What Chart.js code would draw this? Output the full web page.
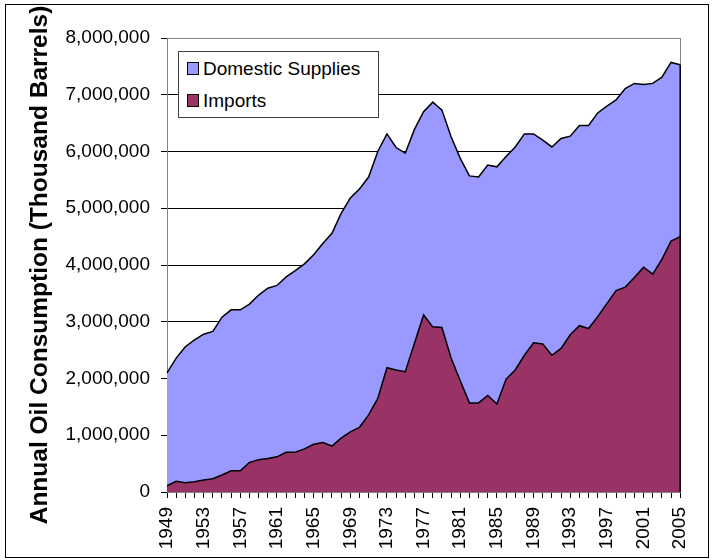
<!DOCTYPE html>
<html>
<head>
<meta charset="utf-8">
<script src="https://cdn.jsdelivr.net/npm/chart.js@4.4.0/dist/chart.umd.min.js"></script>
<style>
html,body{margin:0;padding:0;background:#fff;}
#wrap{position:relative;width:712px;height:560px;overflow:hidden;background:#fff;}
#c{position:absolute;left:0;top:0;}
#frame{position:absolute;left:5px;top:4px;width:704px;height:554px;border:1px solid #000;box-sizing:border-box;pointer-events:none;}
#legend{position:absolute;left:178px;top:51px;width:201px;height:67px;box-sizing:border-box;border:1px solid #404040;background:#fff;font-family:"Liberation Sans",Arial,sans-serif;font-size:19px;color:#000;}
.sw{position:absolute;left:8px;width:12px;height:13px;box-sizing:border-box;border:1px solid #000;}
.lt{position:absolute;left:24px;white-space:nowrap;line-height:20px;height:20px;}
</style>
</head>
<body>
<div id="wrap">
<canvas id="c" width="712" height="560"></canvas>
<div id="legend"></div>
<div id="frame"></div>
</div>
<script>
// ---- data (thousand barrels) ----
const years = ['1949','1950','1951','1952','1953','1954','1955','1956','1957','1958',
  '1959','1960','1961','1962','1963','1964','1965','1966','1967','1968',
  '1969','1970','1971','1972','1973','1974','1975','1976','1977','1978',
  '1979','1980','1981','1982','1983','1984','1985','1986','1987','1988',
  '1989','1990','1991','1992','1993','1994','1995','1996','1997','1998',
  '1999','2000','2001','2002','2003','2004','2005'];
const xTickLabels = ['1949','1953','1957','1961','1965','1969','1973','1977','1981','1985','1989','1993','1997','2001','2005'];
const importsData = [110000,190000,165000,180000,210000,235000,300000,375000,375000,520000,
  570000,590000,620000,700000,700000,760000,840000,870000,810000,950000,
  1060000,1140000,1360000,1650000,2190000,2150000,2120000,2620000,3120000,2910000,
  2900000,2360000,1960000,1570000,1570000,1700000,1550000,1990000,2150000,2410000,
  2630000,2610000,2410000,2530000,2770000,2930000,2880000,3090000,3320000,3550000,
  3610000,3780000,3960000,3840000,4100000,4420000,4500000];
const domesticData = [1990000,2170000,2395000,2500000,2570000,2595000,2780000,2835000,2835000,2790000,
  2900000,3000000,3020000,3090000,3200000,3260000,3340000,3510000,3750000,3960000,
  4120000,4200000,4190000,4350000,4120000,3920000,3850000,3770000,3580000,3960000,
  3830000,3900000,3920000,4000000,3980000,4060000,4180000,3920000,3930000,3900000,
  3680000,3590000,3670000,3700000,3500000,3530000,3580000,3590000,3480000,3360000,
  3500000,3420000,3220000,3360000,3210000,3150000,3030000];
const seriesNames = ['Imports','Domestic Supplies'];
const seriesColors = ['#993366','#9999FF'];
const yMax = 8000000, yStep = 1000000;

const FONT = '"Liberation Sans", Arial, sans-serif';

const framePlugin = {
  id:'framePlugin',
  beforeDatasetsDraw(chart){
    const {ctx, chartArea:a} = chart;
    ctx.save();
    ctx.strokeStyle = '#808080';
    ctx.lineWidth = 1;
    ctx.strokeRect(Math.round(a.left)+0.5, Math.round(a.top)+0.5, Math.round(a.right-a.left), Math.round(a.bottom-a.top));
    ctx.restore();
  },
  afterDatasetsDraw(chart){
    const {ctx, scales} = chart;
    const last = years.length-1;
    const x = scales.x.getPixelForValue(last);
    const yTop = scales.y.getPixelForValue(importsData[last]+domesticData[last]);
    const y0 = scales.y.getPixelForValue(0);
    ctx.save();
    ctx.strokeStyle = '#000';
    ctx.lineWidth = 1.5;
    ctx.beginPath();
    ctx.moveTo(x, yTop); ctx.lineTo(x, y0);
    ctx.stroke();
    ctx.restore();
  }
};

const chart = new Chart(document.getElementById('c'), {
  type:'line',
  data:{
    labels: years,
    datasets:[
      {label:seriesNames[0], data:importsData, backgroundColor:seriesColors[0], borderColor:'#000', borderWidth:1.5, fill:'origin', pointRadius:0, tension:0},
      {label:seriesNames[1], data:domesticData, backgroundColor:seriesColors[1], borderColor:'#000', borderWidth:1.5, fill:'-1', pointRadius:0, tension:0}
    ]
  },
  options:{
    responsive:false,
    animation:false,
    devicePixelRatio:1,
    layout:{padding:{top:38,right:17,bottom:0,left:0}},
    plugins:{legend:{display:false}, tooltip:{enabled:false}},
    scales:{
      x:{
        offset:false,
        grid:{drawOnChartArea:false, drawTicks:true, tickLength:6, color:'#000', lineWidth:1},
        border:{display:true, color:'#000', width:1},
        ticks:{autoSkip:false, maxRotation:90, minRotation:90, padding:9, color:'#000',
          font:{family:FONT, size:19},
          callback:function(v, i){ return xTickLabels.includes(years[i]) ? years[i] : ''; }},
        afterFit:function(s){ s.height = 68; }
      },
      y:{
        stacked:true,
        min:0, max:yMax,
        grid:{color:'#000', lineWidth:1, drawTicks:true, tickLength:6},
        border:{display:true, color:'#000', width:1},
        ticks:{stepSize:yStep, padding:11, color:'#000', font:{family:FONT, size:19},
          callback:function(v){ return v.toLocaleString('en-US'); }},
        title:{display:true, text:'Annual Oil Consumption (Thousand Barrels)', color:'#000',
          font:{family:FONT, size:24.5, weight:'bold'}, padding:{top:26,bottom:0}},
        afterFit:function(s){ s.width = 167; }
      }
    }
  },
  plugins:[framePlugin]
});

// HTML legend (Domestic Supplies first, as in the reference)
const legend = document.getElementById('legend');
[[1,17],[0,49]].forEach(([idx, cy])=>{
  const sw = document.createElement('div');
  sw.className='sw'; sw.style.top=(cy-7)+'px'; sw.style.background=seriesColors[idx];
  const t = document.createElement('div');
  t.className='lt'; t.style.top=(cy-10)+'px'; t.textContent=seriesNames[idx];
  legend.appendChild(sw); legend.appendChild(t);
});
</script>
</body>
</html>
